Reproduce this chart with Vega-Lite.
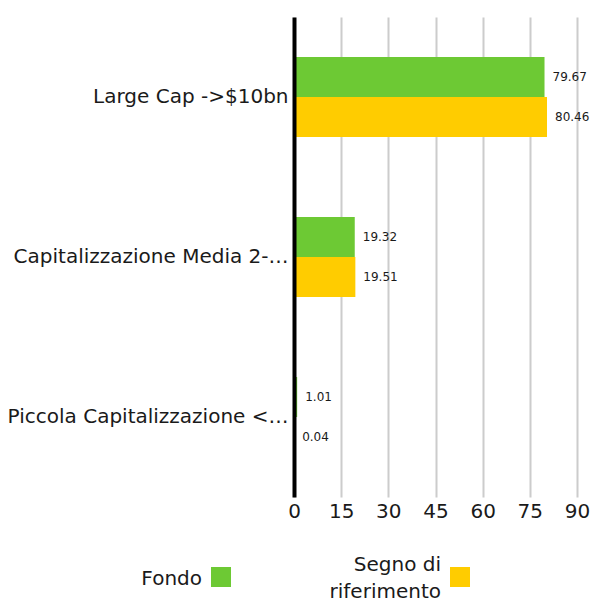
{
  "$schema": "https://vega.github.io/schema/vega-lite/v6.json",
  "autosize": {"type": "none"},
  "width": 283,
  "height": 480,
  "padding": {"left": 294, "top": 17, "right": 15, "bottom": 104},
  "background": "white",
  "config": {
    "view": {"stroke": null},
    "font": "DejaVu Sans",
    "text": {"font": "DejaVu Sans"}
  },
  "data": {
    "values": [
      {"categoria": "Large Cap ->$10bn", "serie": "Fondo", "valore": 79.67},
      {"categoria": "Large Cap ->$10bn", "serie": "Segno di riferimento", "valore": 80.46},
      {"categoria": "Capitalizzazione Media 2-10bn", "serie": "Fondo", "valore": 19.32},
      {"categoria": "Capitalizzazione Media 2-10bn", "serie": "Segno di riferimento", "valore": 19.51},
      {"categoria": "Piccola Capitalizzazione <2bn", "serie": "Fondo", "valore": 1.01},
      {"categoria": "Piccola Capitalizzazione <2bn", "serie": "Segno di riferimento", "valore": 0.04}
    ]
  },
  "encoding": {
    "y": {
      "field": "categoria",
      "type": "nominal",
      "sort": null,
      "scale": {"paddingInner": 0.5, "paddingOuter": 0.25},
      "axis": {
        "title": null,
        "ticks": false,
        "domain": true,
        "domainColor": "#000000",
        "domainWidth": 4,
        "labelFontSize": 20,
        "labelColor": "#1a1a1a",
        "labelPadding": 6,
        "labelLimit": 283,
        "zindex": 1
      }
    },
    "yOffset": {"field": "serie", "type": "nominal", "sort": ["Fondo", "Segno di riferimento"]},
    "x": {
      "field": "valore",
      "type": "quantitative",
      "scale": {"domain": [0, 90], "nice": false},
      "axis": {
        "title": null,
        "values": [0, 15, 30, 45, 60, 75, 90],
        "ticks": false,
        "domain": false,
        "grid": true,
        "gridColor": "#cccccc",
        "gridWidth": 2,
        "labelFontSize": 20,
        "labelColor": "#1a1a1a",
        "labelPadding": 4,
        "labelFlush": false
      }
    }
  },
  "layer": [
    {
      "mark": {"type": "bar"},
      "encoding": {
        "color": {
          "field": "serie",
          "type": "nominal",
          "scale": {"domain": ["Fondo", "Segno di riferimento"], "range": ["#6dc934", "#ffcc00"]},
          "legend": {
            "title": null,
            "orient": "none",
            "legendX": -83,
            "legendY": 550,
            "direction": "horizontal",
            "symbolType": "square",
            "symbolSize": 400,
            "symbolStrokeWidth": 0,
            "labelFontSize": 20,
            "labelColor": "#1a1a1a",
            "labelAlign": "right",
            "labelOffset": -29,
            "labelLimit": 300,
            "columnPadding": 98,
            "labelExpr": "datum.label == 'Segno di riferimento' ? ['Segno di', 'riferimento'] : ['\u00a0', datum.label, '\u00a0']",
            "encode": {
              "labels": {
                "update": {
                  "lineHeight": {"signal": "datum.value == 'Segno di riferimento' ? 27 : 13.5"},
                  "dy": {"value": -12}
                }
              }
            }
          }
        }
      }
    },
    {
      "mark": {"type": "text", "align": "left", "baseline": "middle", "dx": 8, "fontSize": 12, "color": "#1a1a1a"},
      "encoding": {
        "text": {"field": "valore", "type": "quantitative", "format": ".2f"}
      }
    }
  ]
}
